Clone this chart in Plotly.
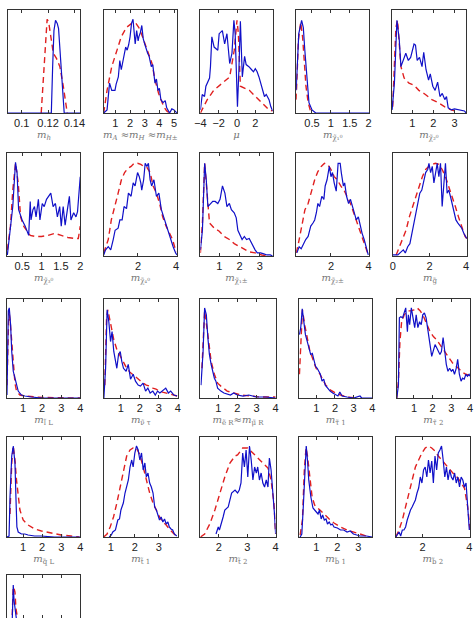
import plotly.graph_objects as go

W, H = 476, 618

# ---------------- data (normalised densities, box height = 1) ----------------
# 1 m_h
mh_bx = [0.0895, 0.1225, 0.1235, 0.1245, 0.1257, 0.127, 0.128, 0.129, 0.1302, 0.1316, 0.1323, 0.1445]
mh_by = [0, 0, 0.45, 0.80, 0.90, 0.87, 0.82, 0.61, 0.35, 0.13, 0, 0]
mh_rx = [0.1148, 0.1165, 0.1178, 0.1193, 0.1205, 0.1222, 0.124, 0.1264, 0.129, 0.1316, 0.1333, 0.1346]
mh_ry = [0, 0.35, 0.67, 0.91, 0.88, 0.71, 0.58, 0.53, 0.45, 0.26, 0.13, 0]
# 2 m_A
mA_bx = [0.2, 0.43, 0.6, 0.75, 0.97, 1.05, 1.2, 1.3, 1.4, 1.5, 1.6, 1.7, 1.8, 1.9, 2.0, 2.1, 2.2, 2.35, 2.45,
         2.55, 2.6, 2.7, 2.8, 2.9, 3.0, 3.1, 3.2, 3.3, 3.45, 3.55, 3.7, 3.8, 3.9, 4.0, 4.1, 4.25, 4.4, 4.5,
         4.6, 4.7, 4.85, 5.0, 5.2]
mA_by = [0, 0.03, 0.29, 0.22, 0.22, 0.28, 0.35, 0.51, 0.42, 0.50, 0.55, 0.64, 0.61, 0.66, 0.74, 0.87, 0.91,
         0.67, 0.80, 0.70, 0.74, 0.78, 0.85, 0.72, 0.67, 0.62, 0.58, 0.55, 0.45, 0.47, 0.29, 0.33, 0.22,
         0.24, 0.13, 0.10, 0.12, 0.05, 0.03, 0.0, 0.04, 0.03, 0.0]
mA_rx = [0.2, 0.43, 0.75, 1.1, 1.4, 1.75, 2.1, 2.4, 2.6, 2.85, 3.2, 3.5, 3.7, 3.95, 4.3, 4.5, 4.7]
mA_ry = [0, 0.22, 0.45, 0.61, 0.74, 0.83, 0.87, 0.87, 0.83, 0.74, 0.61, 0.48, 0.32, 0.19, 0.06, 0.02, 0.0]
# 3 mu
mu_bx = [-4.0, -3.8, -3.55, -3.4, -3.0, -2.9, -2.75, -2.5, -2.1, -1.95, -1.6, -1.35, -1.1, -0.8, -0.55,
         -0.34, -0.2, -0.05, 0.05, 0.2, 0.37, 0.58, 0.83, 1.0, 1.3, 1.6, 1.8, 2.0, 2.2, 2.4, 2.79, 3.0,
         3.2, 3.5, 3.7, 3.9]
mu_by = [0.03, 0.18, 0.16, 0.26, 0.34, 0.45, 0.74, 0.64, 0.61, 0.77, 0.80, 0.67, 0.77, 0.48, 0.58, 0.90,
         0.77, 0.30, 0.06, 0.40, 0.89, 0.35, 0.55, 0.47, 0.45, 0.42, 0.40, 0.43, 0.40, 0.35, 0.22, 0.16,
         0.18, 0.13, 0.06, 0.02]
mu_rx = [-4.0, -3.25, -2.55, -1.65, -0.8, -0.3, 0.0, 0.15, 0.37, 1.35, 2.05, 2.8, 3.5, 3.9]
mu_ry = [0, 0.13, 0.22, 0.29, 0.35, 0.61, 0.90, 0.77, 0.26, 0.22, 0.16, 0.10, 0.03, 0.02]
# 4 chi1^0
n1_bx = [0.08, 0.15, 0.225, 0.27, 0.31, 0.37, 0.42, 0.5, 0.6, 2.02]
n1_by = [0.22, 0.77, 0.90, 0.83, 0.61, 0.29, 0.10, 0.03, 0.0, 0.0]
n1_rx = [0.08, 0.14, 0.2, 0.25, 0.3, 0.34, 0.4, 0.46, 0.52]
n1_ry = [0.13, 0.71, 0.88, 0.74, 0.48, 0.26, 0.10, 0.02, 0]
# 5 chi2^0
n2_bx = [0.04, 0.15, 0.27, 0.38, 0.46, 0.57, 0.69, 0.81, 0.92, 1.08, 1.15, 1.23, 1.34, 1.46, 1.54, 1.65,
         1.77, 1.85, 1.97, 2.08, 2.2, 2.31, 2.42, 2.54, 2.62, 2.70, 2.85, 3.0, 3.24, 3.47, 3.55]
n2_by = [0.03, 0.29, 0.90, 0.71, 0.45, 0.51, 0.58, 0.51, 0.54, 0.67, 0.66, 0.51, 0.54, 0.45, 0.59, 0.42,
         0.32, 0.38, 0.26, 0.22, 0.30, 0.16, 0.19, 0.13, 0.16, 0.05, 0.03, 0.04, 0.03, 0.02, 0.0]
n2_rx = [0.07, 0.22, 0.30, 0.46, 0.61, 0.84, 1.08, 1.31, 1.62, 1.93, 2.23, 2.54, 2.85, 3.16]
n2_ry = [0.06, 0.83, 0.90, 0.45, 0.34, 0.29, 0.27, 0.22, 0.18, 0.13, 0.10, 0.06, 0.03, 0.01]
# 6 chi3^0
n3_bx = [0.12, 0.2, 0.26, 0.33, 0.37, 0.41, 0.5, 0.58, 0.67, 0.71, 0.73, 0.78, 0.82, 0.86, 0.92, 0.96,
         1.02, 1.07, 1.13, 1.24, 1.30, 1.36, 1.41, 1.47, 1.51, 1.56, 1.61, 1.68, 1.72, 1.76, 1.83, 1.89,
         1.93, 2.0]
n3_by = [0.01, 0.25, 0.48, 0.91, 0.81, 0.45, 0.35, 0.29, 0.20, 0.53, 0.35, 0.45, 0.48, 0.38, 0.55, 0.35,
         0.51, 0.48, 0.55, 0.61, 0.48, 0.51, 0.38, 0.48, 0.29, 0.48, 0.30, 0.48, 0.58, 0.35, 0.42, 0.38,
         0.43, 0.77]
n3_rx = [0.12, 0.2, 0.26, 0.33, 0.4, 0.46, 0.54, 0.63, 0.71, 0.84, 1.0, 1.17, 1.34, 1.51, 1.68, 1.85,
         1.95, 2.0]
n3_ry = [0.06, 0.29, 0.64, 0.90, 0.71, 0.38, 0.29, 0.24, 0.20, 0.19, 0.19, 0.20, 0.22, 0.20, 0.18, 0.17,
         0.17, 0.29]
# 7 chi4^0
n4_bx = [0.2, 0.3, 0.44, 0.57, 0.7, 0.8, 0.96, 1.05, 1.17, 1.27, 1.4, 1.5, 1.64, 1.75, 1.85, 1.98, 2.07,
         2.15, 2.2, 2.3, 2.38, 2.47, 2.55, 2.64, 2.72, 2.84, 2.97, 3.1, 3.23, 3.35, 3.48, 3.6, 3.73, 3.85,
         3.98, 4.05]
n4_by = [0.01, 0.06, 0.09, 0.06, 0.16, 0.25, 0.27, 0.35, 0.35, 0.48, 0.46, 0.61, 0.58, 0.71, 0.68, 0.81,
         0.77, 0.71, 0.64, 0.74, 0.90, 0.87, 0.90, 0.74, 0.68, 0.74, 0.58, 0.61, 0.45, 0.38, 0.29, 0.22,
         0.16, 0.09, 0.03, 0.01]
n4_rx = [0.2, 0.44, 0.6, 0.8, 0.96, 1.13, 1.3, 1.47, 1.64, 1.8, 1.98, 2.15, 2.3, 2.47, 2.64, 2.8, 2.97,
         3.14, 3.3, 3.48, 3.65, 3.82, 4.0]
n4_ry = [0.03, 0.16, 0.35, 0.51, 0.61, 0.74, 0.81, 0.85, 0.87, 0.90, 0.90, 0.89, 0.87, 0.86, 0.81, 0.68,
         0.61, 0.51, 0.38, 0.29, 0.22, 0.16, 0.04]
# 8 chi1^+-
c1_bx = [0.07, 0.17, 0.28, 0.36, 0.44, 0.56, 0.68, 0.8, 0.93, 1.04, 1.16, 1.28, 1.38, 1.5, 1.6, 1.74,
         1.84, 1.92, 2.0, 2.13, 2.24, 2.35, 2.48, 2.6, 2.68, 2.77, 2.88, 3.04, 3.2, 3.36, 3.52, 3.64]
c1_by = [0.06, 0.25, 0.90, 0.74, 0.48, 0.51, 0.53, 0.53, 0.51, 0.55, 0.68, 0.61, 0.48, 0.51, 0.45, 0.42,
         0.37, 0.25, 0.22, 0.16, 0.19, 0.16, 0.17, 0.12, 0.09, 0.06, 0.03, 0.03, 0.02, 0.01, 0.01, 0.0]
c1_rx = [0.07, 0.17, 0.28, 0.41, 0.52, 0.76, 1.0, 1.24, 1.5, 1.74, 2.0, 2.24, 2.48, 2.77, 3.1, 3.4]
c1_ry = [0.03, 0.32, 0.90, 0.55, 0.32, 0.27, 0.24, 0.19, 0.16, 0.12, 0.09, 0.06, 0.04, 0.03, 0.01, 0.0]
# 9 chi2^+-
c2_bx = [0.18, 0.30, 0.41, 0.52, 0.65, 0.78, 0.92, 1.04, 1.13, 1.22, 1.30, 1.39, 1.51, 1.62, 1.69, 1.79,
         1.91, 2.0, 2.08, 2.17, 2.28, 2.38, 2.49, 2.55, 2.66, 2.73, 2.83, 2.94, 3.04, 3.15, 3.25, 3.35,
         3.46, 3.56, 3.66, 3.77, 3.87, 3.99]
c2_by = [0.03, 0.09, 0.07, 0.12, 0.16, 0.19, 0.29, 0.32, 0.35, 0.42, 0.51, 0.48, 0.58, 0.55, 0.68, 0.74,
         0.87, 0.77, 0.81, 0.71, 0.63, 0.90, 0.90, 0.81, 0.68, 0.71, 0.58, 0.51, 0.55, 0.48, 0.42, 0.35,
         0.38, 0.29, 0.22, 0.16, 0.09, 0.01]
c2_rx = [0.14, 0.26, 0.44, 0.61, 0.78, 0.96, 1.13, 1.30, 1.48, 1.65, 1.82, 2.0, 2.17, 2.34, 2.52, 2.69,
         2.86, 3.04, 3.21, 3.38, 3.56, 3.73, 3.9, 3.99]
c2_ry = [0.03, 0.12, 0.29, 0.45, 0.51, 0.64, 0.74, 0.82, 0.87, 0.90, 0.89, 0.84, 0.77, 0.74, 0.68, 0.64,
         0.58, 0.51, 0.42, 0.33, 0.25, 0.16, 0.06, 0.01]
# 10 gluino
gl_bx = [0.0, 0.27, 0.45, 0.57, 0.68, 0.81, 0.93, 1.08, 1.17, 1.25, 1.36, 1.47, 1.58, 1.68, 1.79, 1.90,
         1.97, 2.06, 2.15, 2.24, 2.33, 2.42, 2.51, 2.6, 2.69, 2.78, 2.87, 2.96, 3.05, 3.14, 3.23, 3.32,
         3.44, 3.55, 3.66, 3.76, 3.87, 3.98, 4.03]
gl_by = [0.01, 0.01, 0.04, 0.06, 0.03, 0.09, 0.12, 0.25, 0.32, 0.42, 0.51, 0.61, 0.64, 0.74, 0.81, 0.84,
         0.90, 0.81, 0.87, 0.71, 0.81, 0.90, 0.77, 0.90, 0.48, 0.74, 0.90, 0.61, 0.64, 0.58, 0.51, 0.45,
         0.35, 0.32, 0.29, 0.27, 0.22, 0.19, 0.17]
gl_rx = [0.18, 0.36, 0.54, 0.72, 0.9, 1.08, 1.25, 1.43, 1.61, 1.79, 1.97, 2.15, 2.33, 2.51, 2.69, 2.87,
         3.05, 3.23, 3.41, 3.58, 3.76, 3.94, 4.03]
gl_ry = [0.01, 0.09, 0.16, 0.25, 0.38, 0.48, 0.58, 0.68, 0.77, 0.84, 0.87, 0.89, 0.90, 0.89, 0.84, 0.77,
         0.68, 0.58, 0.48, 0.38, 0.29, 0.19, 0.17]
# 11 slepton L
eL_bx = [0.15, 0.18, 0.22, 0.27, 0.34, 0.4, 0.48, 0.57, 0.65, 0.74, 0.91, 1.09, 1.43, 2.0, 4.0]
eL_by = [0.03, 0.35, 0.88, 0.91, 0.74, 0.47, 0.27, 0.20, 0.13, 0.07, 0.03, 0.02, 0.01, 0.0, 0.0]
eL_rx = [0.15, 0.2, 0.25, 0.32, 0.4, 0.48, 0.57, 0.65, 0.83, 1.09, 2.0, 4.0]
eL_ry = [0.13, 0.64, 0.89, 0.77, 0.54, 0.30, 0.15, 0.07, 0.03, 0.02, 0.005, 0.0]
# 12 sneutrino
sn_bx = [0.11, 0.2, 0.28, 0.37, 0.46, 0.54, 0.63, 0.71, 0.79, 0.88, 0.97, 1.05, 1.14, 1.28, 1.39, 1.51,
         1.65, 1.77, 1.91, 2.03, 2.17, 2.3, 2.42, 2.54, 2.68, 2.81, 2.93, 3.05, 3.19, 3.36, 3.5, 3.62,
         3.79, 3.96]
sn_by = [0.0, 0.30, 0.89, 0.77, 0.57, 0.67, 0.47, 0.40, 0.30, 0.44, 0.47, 0.37, 0.30, 0.27, 0.34, 0.19,
         0.24, 0.17, 0.13, 0.12, 0.15, 0.07, 0.10, 0.05, 0.07, 0.03, 0.07, 0.05, 0.07, 0.10, 0.05, 0.07,
         0.03, 0.02]
sn_rx = [0.16, 0.25, 0.32, 0.46, 0.63, 0.79, 0.97, 1.14, 1.31, 1.48, 1.65, 1.82, 1.99, 2.17, 2.34, 2.51,
         2.68, 2.85, 3.02, 3.19, 3.36, 3.53, 3.7, 3.96]
sn_ry = [0.13, 0.81, 0.89, 0.74, 0.59, 0.49, 0.42, 0.35, 0.30, 0.26, 0.23, 0.20, 0.18, 0.15, 0.13, 0.12,
         0.10, 0.09, 0.07, 0.06, 0.05, 0.04, 0.03, 0.02]
# 13 e_R ~ mu_R
eR_bx = [0.1, 0.21, 0.29, 0.38, 0.46, 0.54, 0.63, 0.72, 0.8, 0.88, 0.97, 1.14, 1.3, 1.64, 1.81, 2.0,
         2.3, 2.6, 3.0, 3.5, 4.0]
eR_by = [0.13, 0.47, 0.91, 0.84, 0.61, 0.44, 0.34, 0.27, 0.20, 0.17, 0.10, 0.07, 0.05, 0.03, 0.05, 0.03,
         0.02, 0.03, 0.01, 0.01, 0.0]
eR_rx = [0.15, 0.29, 0.46, 0.63, 0.8, 0.97, 1.14, 1.47, 1.81, 2.2, 2.7, 3.2, 4.0]
eR_ry = [0.30, 0.88, 0.64, 0.37, 0.24, 0.15, 0.12, 0.07, 0.05, 0.03, 0.02, 0.01, 0.01]
# 14 stau1
t1_bx = [0.1, 0.17, 0.25, 0.34, 0.42, 0.52, 0.6, 0.7, 0.79, 0.88, 0.96, 1.05, 1.14, 1.22, 1.31, 1.4,
         1.48, 1.6, 1.74, 1.88, 2.03, 2.16, 2.26, 2.38, 2.65, 3.0, 3.34, 3.43, 4.0]
t1_by = [0.64, 0.71, 0.90, 0.77, 0.64, 0.57, 0.51, 0.44, 0.45, 0.37, 0.32, 0.30, 0.27, 0.24, 0.17, 0.19,
         0.13, 0.10, 0.07, 0.05, 0.03, 0.02, 0.06, 0.02, 0.01, 0.0, 0.02, 0.0, 0.0]
t1_rx = [0.1, 0.19, 0.26, 0.38, 0.52, 0.64, 0.82, 0.99, 1.17, 1.34, 1.51, 1.77, 2.03, 2.3, 2.65, 3.17]
t1_ry = [0.24, 0.64, 0.89, 0.74, 0.61, 0.49, 0.39, 0.30, 0.25, 0.19, 0.13, 0.08, 0.05, 0.03, 0.01, 0.0]
# 15 stau2
t2_bx = [0.08, 0.17, 0.22, 0.30, 0.39, 0.48, 0.56, 0.65, 0.70, 0.77, 0.86, 0.95, 1.04, 1.12, 1.21, 1.30,
         1.39, 1.47, 1.56, 1.65, 1.78, 1.86, 1.95, 2.04, 2.13, 2.21, 2.3, 2.39, 2.47, 2.56, 2.65, 2.73,
         2.82, 2.91, 3.0, 3.08, 3.17, 3.26, 3.34, 3.43, 3.52, 3.6, 3.69, 3.78, 3.86, 3.95, 4.0]
t2_by = [0.0, 0.13, 0.81, 0.82, 0.81, 0.88, 0.91, 0.67, 0.84, 0.74, 0.91, 0.81, 0.71, 0.84, 0.71, 0.77,
         0.74, 0.84, 0.86, 0.81, 0.67, 0.54, 0.42, 0.47, 0.54, 0.51, 0.47, 0.44, 0.47, 0.61, 0.47, 0.34,
         0.27, 0.30, 0.27, 0.29, 0.24, 0.30, 0.39, 0.24, 0.17, 0.20, 0.19, 0.24, 0.22, 0.24, 0.22]
t2_rx = [0.08, 0.17, 0.25, 0.34, 0.48, 0.65, 0.82, 1.0, 1.17, 1.34, 1.52, 1.69, 1.86, 2.04, 2.21, 2.39,
         2.56, 2.73, 2.91, 3.08, 3.26, 3.43, 3.6, 3.78, 3.95]
t2_ry = [0.0, 0.17, 0.57, 0.77, 0.84, 0.88, 0.88, 0.89, 0.91, 0.88, 0.82, 0.74, 0.67, 0.62, 0.59, 0.54,
         0.49, 0.44, 0.39, 0.35, 0.32, 0.29, 0.26, 0.24, 0.23]
# 16 squark L
qL_bx = [0.15, 0.26, 0.31, 0.4, 0.48, 0.57, 0.62, 0.67, 0.74, 0.91, 1.09, 1.26, 1.6, 1.95, 2.65, 4.0]
qL_by = [0.0, 0.01, 0.40, 0.81, 0.91, 0.74, 0.40, 0.10, 0.05, 0.03, 0.03, 0.02, 0.01, 0.01, 0.0, 0.0]
qL_rx = [0.31, 0.4, 0.48, 0.57, 0.65, 0.74, 0.83, 1.0, 1.26, 1.61, 1.96, 2.48, 3.0, 3.52, 3.95]
qL_ry = [0.23, 0.74, 0.91, 0.77, 0.57, 0.40, 0.27, 0.17, 0.12, 0.08, 0.06, 0.04, 0.02, 0.01, 0.0]
# 17 stop1
st1_bx = [0.93, 1.02, 1.08, 1.19, 1.29, 1.36, 1.42, 1.52, 1.59, 1.66, 1.73, 1.8, 1.87, 1.93, 2.0, 2.07,
          2.14, 2.21, 2.28, 2.35, 2.42, 2.48, 2.55, 2.62, 2.69, 2.76, 2.83, 2.9, 2.96, 3.03, 3.1, 3.17,
          3.24, 3.31, 3.38, 3.44, 3.51, 3.58, 3.65, 3.75]
st1_by = [0.0, 0.02, 0.05, 0.07, 0.17, 0.18, 0.27, 0.34, 0.44, 0.50, 0.57, 0.70, 0.77, 0.70, 0.84, 0.91,
          0.87, 0.77, 0.84, 0.67, 0.74, 0.60, 0.64, 0.54, 0.50, 0.44, 0.30, 0.27, 0.23, 0.17, 0.20, 0.15,
          0.18, 0.13, 0.15, 0.10, 0.08, 0.07, 0.03, 0.01]
st1_rx = [0.7, 0.84, 0.97, 1.11, 1.25, 1.38, 1.52, 1.66, 1.8, 1.93, 2.07, 2.21, 2.35, 2.48, 2.62, 2.76,
          2.9, 3.03, 3.17, 3.31, 3.44, 3.58, 3.72]
st1_ry = [0.0, 0.03, 0.10, 0.20, 0.34, 0.50, 0.67, 0.81, 0.87, 0.89, 0.89, 0.82, 0.70, 0.57, 0.44, 0.34,
          0.27, 0.20, 0.15, 0.12, 0.08, 0.05, 0.01]
# 18 stop2
st2_bx = [1.9, 1.98, 2.02, 2.1, 2.15, 2.21, 2.33, 2.45, 2.57, 2.66, 2.72, 2.78, 2.84, 2.9, 2.96, 3.02,
          3.08, 3.14, 3.2, 3.26, 3.32, 3.37, 3.43, 3.49, 3.55, 3.61, 3.67, 3.73, 3.78, 3.84, 3.9, 3.96, 4.0]
st2_by = [0.03, 0.10, 0.07, 0.17, 0.20, 0.27, 0.30, 0.44, 0.47, 0.44, 0.47, 0.54, 0.84, 0.70, 0.87, 0.60,
          0.91, 0.77, 0.57, 0.70, 0.64, 0.70, 0.57, 0.64, 0.54, 0.50, 0.57, 0.50, 0.79, 0.67, 0.47, 0.23,
          0.03]
st2_rx = [1.35, 1.5, 1.68, 1.86, 2.04, 2.21, 2.39, 2.57, 2.66, 2.84, 3.02, 3.2, 3.37, 3.55, 3.73, 3.84,
          3.94, 4.0]
st2_ry = [0.0, 0.03, 0.13, 0.27, 0.44, 0.60, 0.74, 0.81, 0.82, 0.89, 0.89, 0.84, 0.79, 0.74, 0.69, 0.57,
          0.34, 0.03]
# 19 sbottom1
sb1_bx = [0.23, 0.31, 0.38, 0.46, 0.52, 0.58, 0.64, 0.74, 0.84, 0.92, 1.0, 1.08, 1.15, 1.23, 1.3, 1.38,
          1.46, 1.53, 1.61, 1.69, 1.76, 1.84, 2.0, 2.15, 2.3, 2.46, 2.61, 2.76, 2.92, 3.07, 3.38, 3.66]
sb1_by = [0.0, 0.03, 0.30, 0.74, 0.91, 0.77, 0.57, 0.40, 0.29, 0.27, 0.25, 0.23, 0.27, 0.18, 0.22, 0.17,
          0.18, 0.13, 0.15, 0.12, 0.13, 0.10, 0.09, 0.07, 0.07, 0.05, 0.06, 0.03, 0.02, 0.01, 0.01, 0.0]
sb1_rx = [0.23, 0.34, 0.43, 0.51, 0.58, 0.69, 0.8, 0.92, 1.15, 1.38, 1.61, 1.84, 2.15, 2.46, 2.76, 3.07,
          3.38]
sb1_ry = [0.02, 0.17, 0.67, 0.89, 0.81, 0.57, 0.40, 0.32, 0.27, 0.22, 0.18, 0.14, 0.10, 0.07, 0.05, 0.03,
          0.01]
# 20 sbottom2
sb2_bx = [0.85, 0.99, 1.06, 1.13, 1.2, 1.27, 1.34, 1.41, 1.48, 1.55, 1.62, 1.69, 1.76, 1.83, 1.9, 1.97,
          2.04, 2.11, 2.18, 2.25, 2.32, 2.39, 2.46, 2.53, 2.6, 2.67, 2.74, 2.81, 2.88, 2.95, 3.02, 3.09,
          3.16, 3.23, 3.3, 3.37, 3.44, 3.51, 3.58, 3.65, 3.72, 3.79, 3.86, 3.93, 4.0]
sb2_by = [0.0, 0.05, 0.01, 0.07, 0.07, 0.10, 0.17, 0.23, 0.27, 0.30, 0.34, 0.37, 0.44, 0.49, 0.60, 0.54,
          0.67, 0.70, 0.60, 0.77, 0.64, 0.76, 0.54, 0.81, 0.67, 0.84, 0.87, 0.91, 0.77, 0.60, 0.70, 0.57,
          0.67, 0.60, 0.57, 0.64, 0.54, 0.60, 0.50, 0.60, 0.57, 0.50, 0.54, 0.34, 0.07]
sb2_rx = [0.85, 0.99, 1.13, 1.27, 1.41, 1.55, 1.69, 1.83, 1.97, 2.11, 2.25, 2.39, 2.53, 2.67, 2.81, 2.95,
          3.09, 3.23, 3.37, 3.51, 3.65, 3.79, 3.93, 4.03]
sb2_ry = [0.0, 0.07, 0.17, 0.30, 0.44, 0.57, 0.70, 0.77, 0.84, 0.89, 0.91, 0.89, 0.86, 0.81, 0.77, 0.74,
          0.70, 0.65, 0.62, 0.59, 0.54, 0.49, 0.30, 0.07]
# 21 (cut off at the bottom of the page)
p21_bx = [0.15, 0.38, 0.42, 0.45, 0.48, 0.52, 0.55, 0.6, 0.7, 1.0, 4.0]
p21_by = [0.0, 0.0, 0.5, 0.8, 0.90, 0.75, 0.55, 0.10, 0.04, 0.02, 0.0]
p21_rx = [0.35, 0.4, 0.44, 0.48, 0.53, 0.57, 0.62, 0.7, 0.8, 1.0]
p21_ry = [0.2, 0.5, 0.75, 0.88, 0.86, 0.83, 0.67, 0.5, 0.35, 0.2]

# axis titles
T = [
    "<i>m</i><sub><i>h</i></sub>",
    "<i>m</i><sub><i>A</i></sub> ≈<i>m</i><sub><i>H</i></sub> ≈<i>m</i><sub><i>H</i>±</sub>",
    "<i>μ</i>",
    "<i>m</i><sub>χ̃₁⁰</sub>",
    "<i>m</i><sub>χ̃₂⁰</sub>",
    "<i>m</i><sub>χ̃₃⁰</sub>",
    "<i>m</i><sub>χ̃₄⁰</sub>",
    "<i>m</i><sub>χ̃₁±</sub>",
    "<i>m</i><sub>χ̃₂±</sub>",
    "<i>m</i><sub>g̃</sub>",
    "<i>m</i><sub>l̃ L</sub>",
    "<i>m</i><sub>ν̃ τ</sub>",
    "<i>m</i><sub>ẽ R</sub>≈<i>m</i><sub>μ̃ R</sub>",
    "<i>m</i><sub>τ̃ 1</sub>",
    "<i>m</i><sub>τ̃ 2</sub>",
    "<i>m</i><sub>q̃ L</sub>",
    "<i>m</i><sub>t̃ 1</sub>",
    "<i>m</i><sub>t̃ 2</sub>",
    "<i>m</i><sub>b̃ 1</sub>",
    "<i>m</i><sub>b̃ 2</sub>",
    None,
]

# panels: data, x range, tick values / labels, pixel box (x0, x1, y0, y1)
P = [
    (mh_bx, mh_by, mh_rx, mh_ry, [0.0895, 0.1445], [0.1, 0.12, 0.14], ["0.1", "0.12", "0.14"], (2, 76, 10, 113)),
    (mA_bx, mA_by, mA_rx, mA_ry, [0.2, 5.2], [1, 2, 3, 4, 5], None, (100, 175, 10, 113)),
    (mu_bx, mu_by, mu_rx, mu_ry, [-4, 3.9], [-4, -2, 0, 2], ["−4", "−2", "0", "2"], (199, 273, 10, 113)),
    (n1_bx, n1_by, n1_rx, n1_ry, [0.08, 2.02], [0.5, 1, 1.5, 2], None, (297, 372, 10, 113)),
    (n2_bx, n2_by, n2_rx, n2_ry, [0.03, 3.55], [1, 2, 3], None, (395, 471, 10, 113)),
    (n3_bx, n3_by, n3_rx, n3_ry, [0.11, 2.0], [0.5, 1, 1.5, 2], None, (1, 76, 153, 256)),
    (n4_bx, n4_by, n4_rx, n4_ry, [0.2, 4.05], [2, 4], None, (100, 175, 153, 256)),
    (c1_bx, c1_by, c1_rx, c1_ry, [0.07, 3.64], [1, 2, 3], None, (199, 273, 153, 256)),
    (c2_bx, c2_by, c2_rx, c2_ry, [0.14, 4.05], [2, 4], None, (297, 372, 153, 256)),
    (gl_bx, gl_by, gl_rx, gl_ry, [0.0, 4.05], [0, 2, 4], None, (396, 472, 153, 256)),
    (eL_bx, eL_by, eL_rx, eL_ry, [0.15, 4.0], [1, 2, 3, 4], None, (1, 76, 299, 398)),
    (sn_bx, sn_by, sn_rx, sn_ry, [0.1, 4.0], [1, 2, 3, 4], None, (100, 176, 299, 398)),
    (eR_bx, eR_by, eR_rx, eR_ry, [0.07, 4.0], [1, 2, 3, 4], None, (199, 276, 299, 398)),
    (t1_bx, t1_by, t1_rx, t1_ry, [0.08, 4.0], [1, 2, 3, 4], None, (300, 375, 299, 398)),
    (t2_bx, t2_by, t2_rx, t2_ry, [0.08, 4.0], [1, 2, 3, 4], None, (400, 475, 299, 398)),
    (qL_bx, qL_by, qL_rx, qL_ry, [0.15, 4.0], [1, 2, 3, 4], None, (1, 76, 437, 537)),
    (st1_bx, st1_by, st1_rx, st1_ry, [0.7, 3.8], [1, 2, 3], None, (100, 176, 437, 537)),
    (st2_bx, st2_by, st2_rx, st2_ry, [1.35, 4.0], [2, 3, 4], None, (199, 276, 437, 537)),
    (sb1_bx, sb1_by, sb1_rx, sb1_ry, [0.18, 3.66], [1, 2, 3], None, (300, 375, 437, 537)),
    (sb2_bx, sb2_by, sb2_rx, sb2_ry, [0.85, 4.03], [2, 4], None, (399, 475, 437, 537)),
    (p21_bx, p21_by, p21_rx, p21_ry, [0.15, 4.0], [1, 2, 3, 4], None, (1, 76, 575, 618)),
]

BLUE = "#1010c8"
RED = "#e02020"
FONT = "Liberation Sans, Arial, sans-serif"

fig = go.Figure()
layout = {}
for i, (bx, by, rx, ry, xr, tv, tt, box) in enumerate(P):
    n = i + 1
    xs = "x" if n == 1 else f"x{n}"
    ys = "y" if n == 1 else f"y{n}"
    fig.add_trace(go.Scatter(x=rx, y=ry, xaxis=xs, yaxis=ys, mode="lines",
                             line=dict(color=RED, width=1.4, dash="6px,4px")))
    fig.add_trace(go.Scatter(x=bx, y=by, xaxis=xs, yaxis=ys, mode="lines",
                             line=dict(color=BLUE, width=1.2)))
    x0, x1, y0, y1 = box
    last = (n == 21)
    yr = [0.57, 1.0] if last else [0, 1]
    xa = dict(
        domain=[x0 / W, x1 / W], anchor=ys, range=xr, tickmode="array", tickvals=tv,
        ticktext=tt if tt else [str(v) for v in tv],
        ticks="inside", ticklen=3, tickcolor="#333", showline=True, linecolor="#333", linewidth=1,
        mirror="ticks", showgrid=False, zeroline=False, showticklabels=not last,
        tickfont=dict(family=FONT, size=11, color="#222"),
    )
    if T[i]:
        xa["title"] = dict(text=T[i], font=dict(family="DejaVu Serif, serif", size=10, color="#777"),
                           standoff=1)
    layout["xaxis" if n == 1 else f"xaxis{n}"] = xa
    layout["yaxis" if n == 1 else f"yaxis{n}"] = dict(
        domain=[1 - y1 / H, 1 - y0 / H], anchor=xs, range=yr, showticklabels=False,
        ticks="", showline=True, linecolor="#333", linewidth=1, mirror=True,
        showgrid=False, zeroline=False,
    )

fig.update_layout(width=W, height=H, margin=dict(l=0, r=0, t=0, b=0),
                  paper_bgcolor="white", plot_bgcolor="white", showlegend=False, **layout)
fig.write_html("out.html")
